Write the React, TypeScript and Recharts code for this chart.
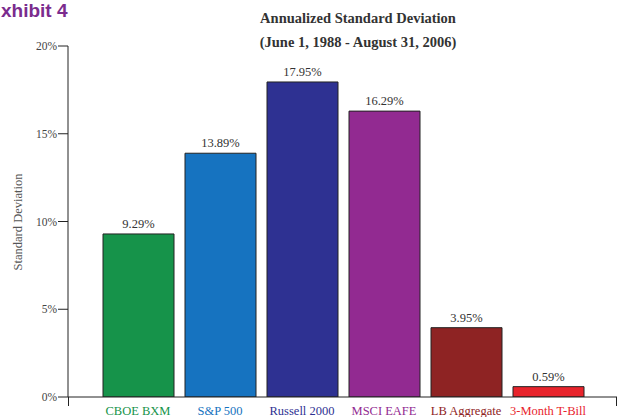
import React from 'react';
import { BarChart, Bar, XAxis, YAxis, Cell, LabelList } from 'recharts';

const categories = ['CBOE BXM', 'S&P 500', 'Russell 2000', 'MSCI EAFE', 'LB Aggregate', '3-Month T-Bill'];
const values = [9.29, 13.89, 17.95, 16.29, 3.95, 0.59];
const colors = ['#16934a', '#1673c0', '#2e3192', '#922a91', '#8e2323', '#e8242c'];
const labelColors = ['#16934a', '#1673c0', '#2e3192', '#922a91', '#8e2323', '#e8242c'];
const yTicks = [0, 5, 10, 15, 20];

const data = categories.map((name, i) => ({ name, value: values[i] }));

const FONT = '"Liberation Serif", "DejaVu Serif", serif';

const XTick = (props: any) => {
  const { x, y, payload, index } = props;
  return (
    <text x={x} y={y + 10} textAnchor="middle" fontFamily={FONT} fontSize={12.5} fill={labelColors[index]}>
      {payload.value}
    </text>
  );
};

export default function App() {
  return (
    <div style={{ position: 'absolute', left: 0, top: 0, width: 621, height: 417, background: '#fff', overflow: 'hidden' }}>
      <div style={{ position: 'absolute', left: 1, top: 0, fontFamily: '"Liberation Sans", Arial, sans-serif', fontWeight: 'bold', fontSize: 19, lineHeight: '22px', color: '#7b2c8e' }}>
        xhibit 4
      </div>
      <div style={{ position: 'absolute', left: 158, width: 400, top: 6, textAlign: 'center', fontFamily: FONT, fontWeight: 'bold', fontSize: 14.5, color: '#333', lineHeight: '24px' }}>
        <div>Annualized Standard Deviation</div>
        <div>(June 1, 1988 - August 31, 2006)</div>
      </div>
      <div style={{ position: 'absolute', left: 18, top: 222, width: 0, height: 0 }}>
        <div style={{ position: 'absolute', transform: 'translate(-50%, -50%) rotate(-90deg)', whiteSpace: 'nowrap', fontFamily: FONT, fontSize: 12.5, color: '#555' }}>
          Standard Deviation
        </div>
      </div>
      <div style={{ position: 'absolute', left: 68, top: 397, width: 1, height: 9, background: '#222' }} />
      <div style={{ position: 'absolute', left: 616, top: 397, width: 1, height: 9, background: '#222' }} />
      <BarChart width={621} height={417} data={data} margin={{ top: 46, right: 4, bottom: 0, left: 30 }}>
        <XAxis
          dataKey="name"
          height={20}
          padding={{ left: 29, right: 28 }}
          tick={<XTick />}
          tickLine={false}
          axisLine={{ stroke: '#222' }}
          interval={0}
        />
        <YAxis
          width={38}
          domain={[0, 20]}
          ticks={yTicks}
          tickFormatter={(v: number) => `${v}%`}
          tick={{ fontFamily: FONT, fontSize: 11.5, fill: '#444' }}
          tickSize={10}
          tickMargin={1}
          tickLine={{ stroke: '#222' }}
          axisLine={{ stroke: '#222' }}
          allowDataOverflow
        />
        <Bar dataKey="value" barSize={71} stroke="#222" strokeWidth={1} isAnimationActive={false}>
          {data.map((_, i) => (
            <Cell key={i} fill={colors[i]} />
          ))}
          <LabelList
            dataKey="value"
            position="top"
            offset={6}
            formatter={(v: number) => `${v.toFixed(2)}%`}
            style={{ fontFamily: FONT, fontSize: 12.5, fill: '#333' }}
          />
        </Bar>
      </BarChart>
    </div>
  );
}
